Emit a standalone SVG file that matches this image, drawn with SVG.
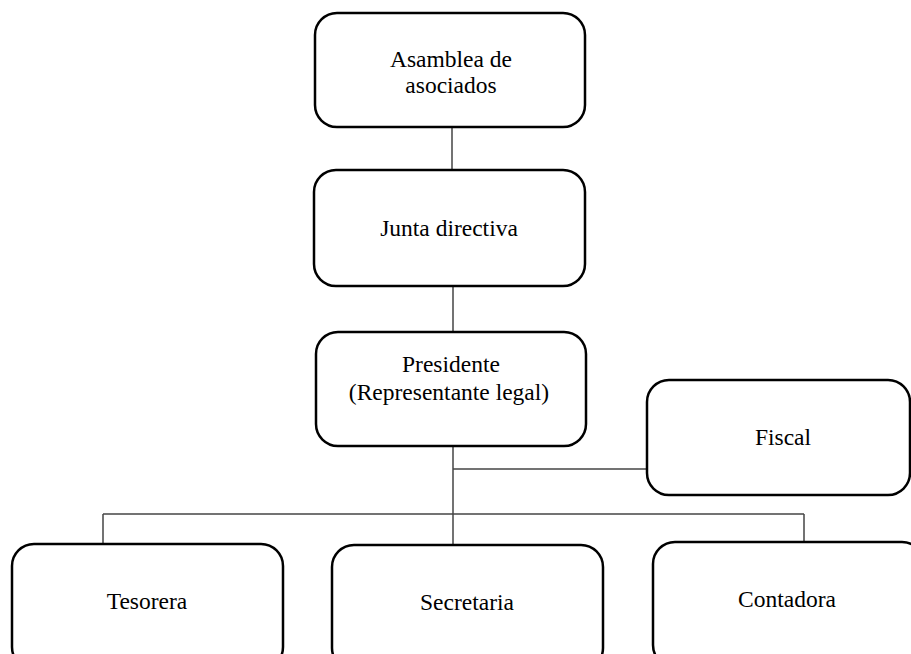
<svg xmlns="http://www.w3.org/2000/svg" width="911" height="654" viewBox="0 0 911 654">
<style>
.box{fill:#fff;stroke:#000;stroke-width:2.5}
.t{font-size:23.5px;fill:#000;text-anchor:middle}
.c{stroke:#444;stroke-width:1.5;fill:none}
</style>
<rect width="911" height="654" fill="#fff"/>
<g id="connectors">
<line class="c" x1="452" y1="127" x2="452" y2="170"/>
<line class="c" x1="453" y1="286" x2="453" y2="332"/>
<line class="c" x1="453" y1="446" x2="453" y2="545"/>
<line class="c" x1="453" y1="469" x2="647" y2="469"/>
<line class="c" x1="103" y1="514" x2="804" y2="514"/>
<line class="c" x1="103" y1="514" x2="103" y2="550"/>
<line class="c" x1="804" y1="514" x2="804" y2="542"/>
</g>
<g font-family="Liberation Serif, serif">
<g id="asamblea">
<rect class="box" x="315" y="13" width="270" height="114" rx="22"/>
<text class="t" x="451" y="67">Asamblea de</text>
<text class="t" x="451" y="93">asociados</text>
</g>
<g id="junta">
<rect class="box" x="314" y="170" width="271" height="116" rx="22"/>
<text class="t" x="449" y="236">Junta directiva</text>
</g>
<g id="presidente">
<rect class="box" x="316" y="332" width="270" height="114" rx="22"/>
<text class="t" x="451" y="372">Presidente</text>
<text class="t" x="449" y="400">(Representante legal)</text>
</g>
<g id="fiscal">
<rect class="box" x="647" y="380" width="263" height="115" rx="22"/>
<text class="t" x="783" y="445">Fiscal</text>
</g>
<g id="tesorera">
<rect class="box" x="12" y="544" width="271" height="125" rx="22"/>
<text class="t" x="147" y="609">Tesorera</text>
</g>
<g id="secretaria">
<rect class="box" x="332" y="545" width="271" height="125" rx="22"/>
<text class="t" x="467" y="610">Secretaria</text>
</g>
<g id="contadora">
<rect class="box" x="653" y="542" width="271" height="125" rx="22"/>
<text class="t" x="787" y="607">Contadora</text>
</g>
</g>
</svg>
